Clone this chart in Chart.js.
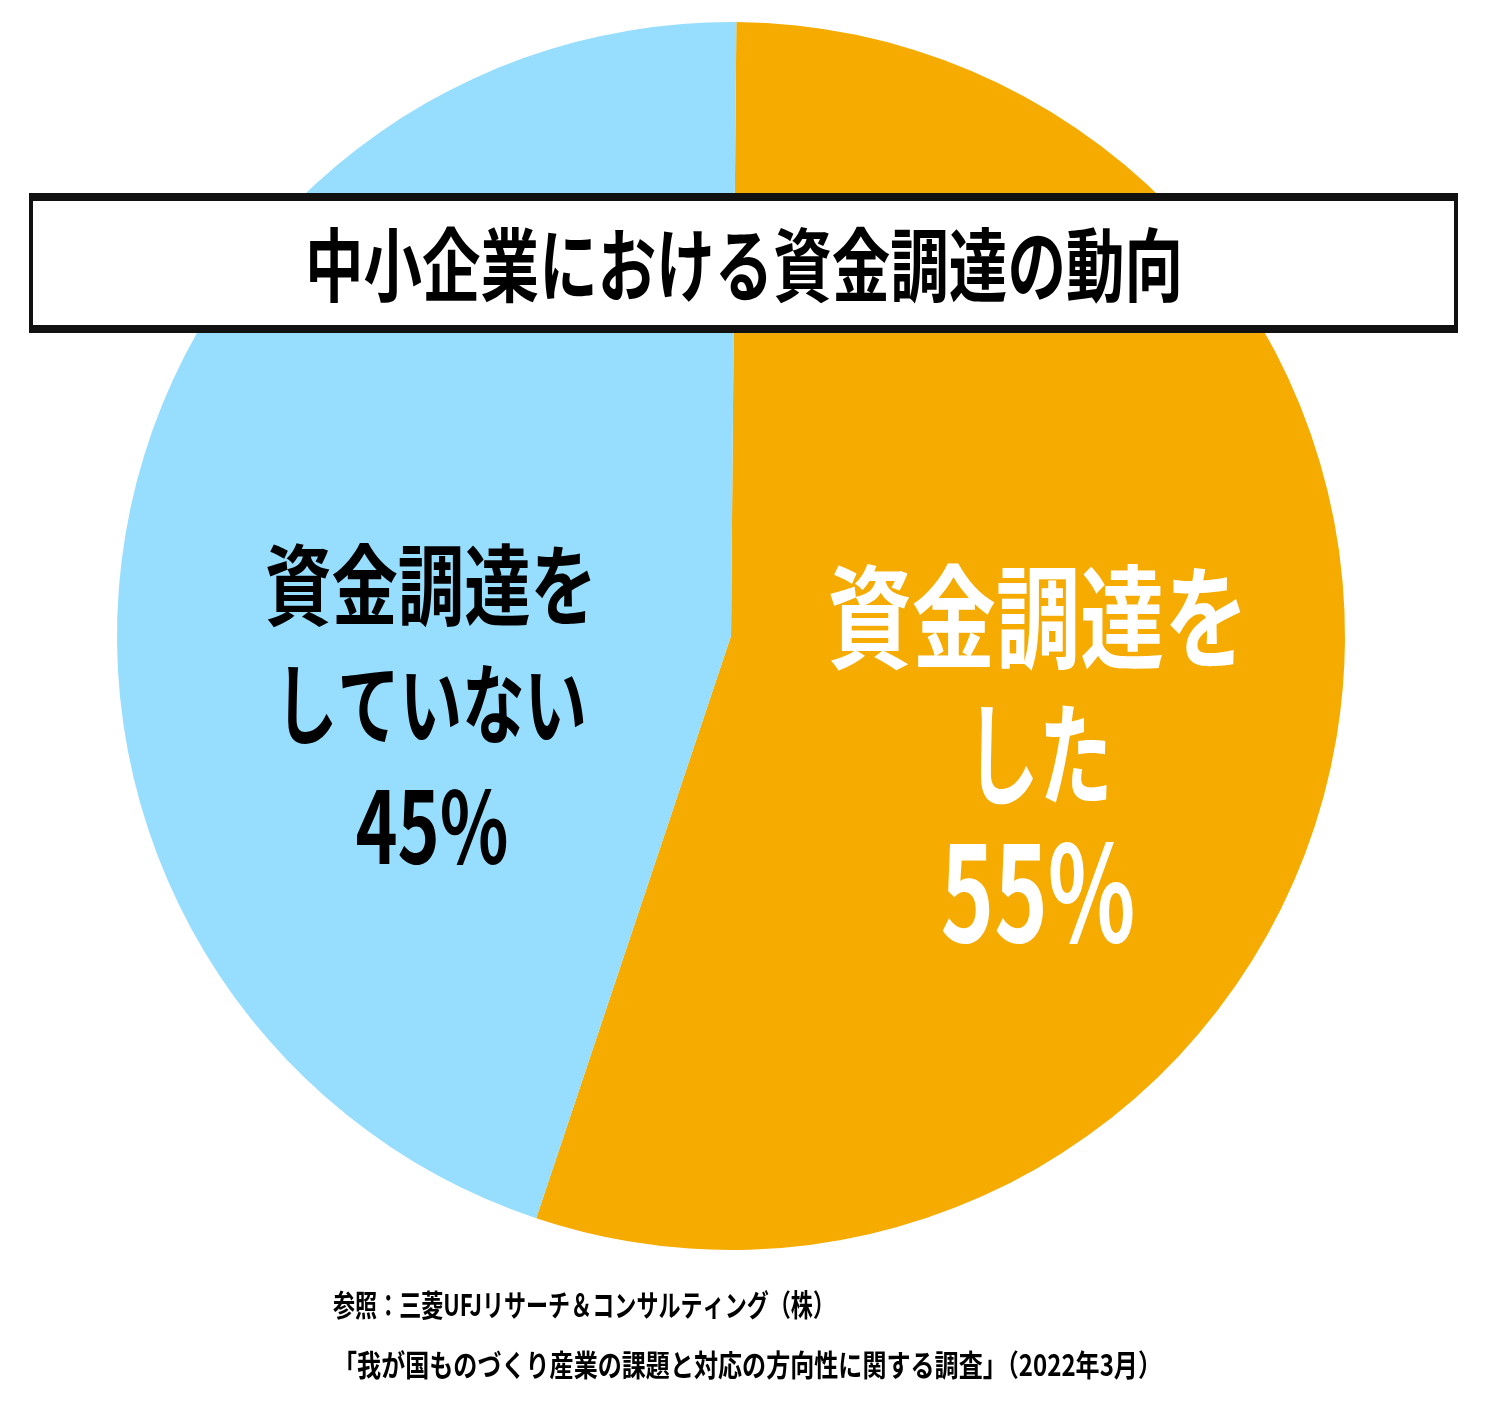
<!DOCTYPE html>
<html lang="ja">
<head>
<meta charset="utf-8">
<script src="https://cdn.jsdelivr.net/npm/chart.js@4/dist/chart.umd.min.js"></script>
<style>
  html, body { margin: 0; padding: 0; background: #fff; }
  #wrap { width: 1488px; height: 1426px; position: relative; }
</style>
</head>
<body>
<div id="wrap"><canvas id="pieChart" width="1488" height="1426"></canvas></div>
<script>
const categorias = ['資金調達をした', '資金調達をしていない'];
const porcentajes = [55, 45];
const colores = ['#F5AB00', '#97DEFE'];
const titulo = '中小企業における資金調達の動向';
const fuente1 = '参照：三菱UFJリサーチ＆コンサルティング（株）';
const fuente2 = '「我が国ものづくり産業の課題と対応の方向性に関する調査」（2022年3月）';

const FAMILIA = '"Noto Sans CJK JP", "Noto Sans", sans-serif';

// texto condensado: se escala en horizontal hasta el ancho deseado
function textoCondensado(ctx, texto, x, y, size, ancho, color, align) {
    ctx.save();
    ctx.font = 'bold ' + size + 'px ' + FAMILIA;
    ctx.fillStyle = color;
    ctx.textBaseline = 'middle';
    ctx.textAlign = align || 'center';
    const medida = ctx.measureText(texto).width;
    ctx.translate(x, y);
    ctx.scale(ancho / medida, 1);
    ctx.fillText(texto, 0, 0);
    ctx.restore();
}

const etiquetas = {
    id: 'etiquetas',
    afterDraw(chart) {
        const ctx = chart.ctx;
        const arco = chart.getDatasetMeta(0).data[0];
        const cx = arco.x, cy = arco.y;

        // caja del titulo
        ctx.save();
        ctx.fillStyle = '#111';
        ctx.fillRect(29, 193, 1429, 140);
        ctx.fillStyle = '#fff';
        ctx.fillRect(33, 201, 1421, 124);
        ctx.restore();
        textoCondensado(ctx, titulo, 744, 265, 80, 878, '#000');

        // etiqueta izquierda (45%)
        textoCondensado(ctx, '資金調達を', cx - 300, cy - 51, 88, 332, '#000');
        textoCondensado(ctx, 'していない', cx - 300, cy + 68, 88, 312, '#000');
        textoCondensado(ctx, porcentajes[1] + '%', cx - 299, cy + 190, 100, 153, '#000');

        // etiqueta derecha (55%)
        textoCondensado(ctx, '資金調達を', cx + 307, cy - 19, 112, 421, '#fff');
        textoCondensado(ctx, 'した', cx + 308, cy + 118, 112, 147, '#fff');
        textoCondensado(ctx, porcentajes[0] + '%', cx + 307, cy + 256, 132, 195, '#fff');

        // fuente
        textoCondensado(ctx, fuente1, 333, 1305, 30, 502, '#000', 'left');
        textoCondensado(ctx, fuente2, 333, 1365, 30, 829, '#000', 'left');
    }
};

const pieCtx = document.getElementById('pieChart').getContext('2d');
const pieChart = new Chart(pieCtx, {
    type: 'pie',
    data: {
        labels: categorias,
        datasets: [{
            data: porcentajes,
            backgroundColor: colores,
            borderWidth: 0
        }]
    },
    options: {
        responsive: false,
        animation: false,
        rotation: 0.5,
        layout: { padding: { left: 117, right: 143, top: 22, bottom: 176 } },
        plugins: {
            legend: { display: false },
            tooltip: { enabled: false }
        }
    },
    plugins: [etiquetas]
});
</script>
</body>
</html>
